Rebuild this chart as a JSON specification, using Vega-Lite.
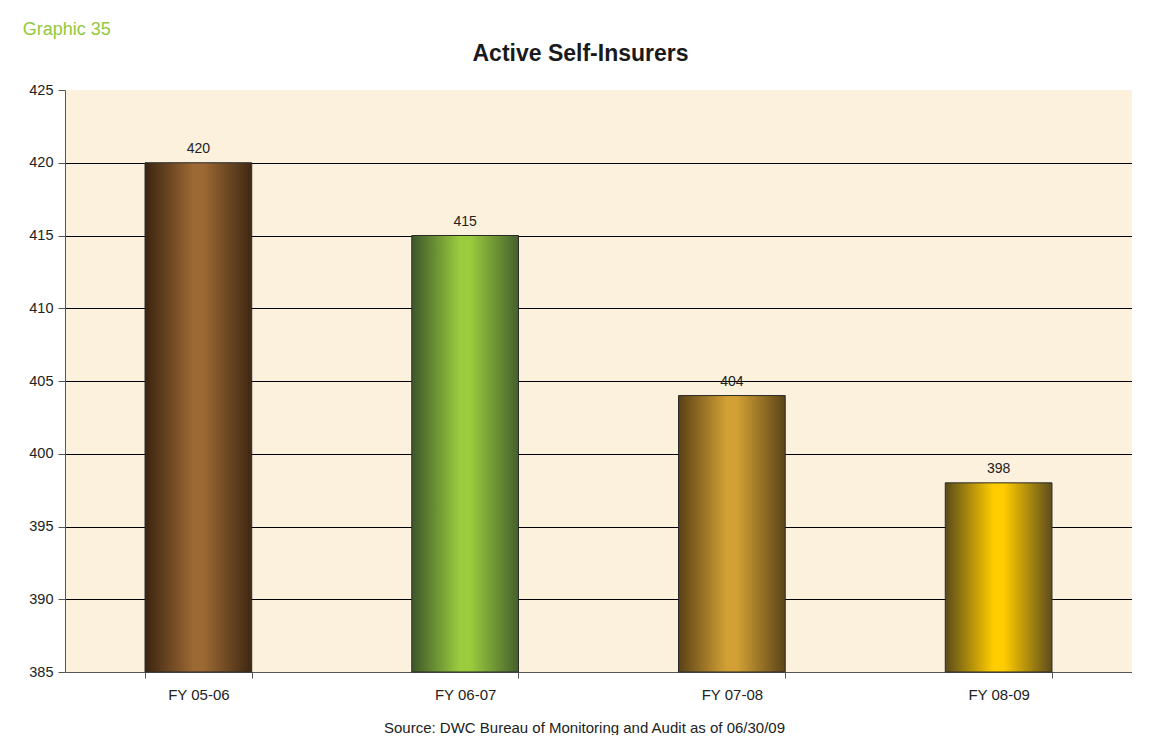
{
  "$schema": "https://vega.github.io/schema/vega-lite/v6.json",
  "background": "white",
  "padding": {"left": 22, "top": 21, "right": 0, "bottom": 0},
  "autosize": {"type": "pad"},
  "title": {"text": "Graphic 35", "anchor": "start", "frame": "bounds", "font": "Liberation Sans", "fontSize": 18, "fontWeight": "normal", "color": "#92c83e", "dx": -6, "offset": 4},
  "config": {"font": "Liberation Sans", "view": {"stroke": null}},
  "vconcat": [
    {
      "width": 1067,
      "height": 582,
      "title": {"text": "Active Self-Insurers", "font": "Liberation Sans", "fontSize": 23, "fontWeight": "bold", "color": "#1a1a1a", "anchor": "middle", "dx": -18, "offset": 16},
      "view": {"fill": "#fcf1dc", "stroke": null},
      "data": {"values": [
        {"year": "FY 05-06", "count": 420},
        {"year": "FY 06-07", "count": 415},
        {"year": "FY 07-08", "count": 404},
        {"year": "FY 08-09", "count": 398}
      ]},
      "encoding": {
        "x": {
          "field": "year", "type": "nominal", "sort": null,
          "scale": {"paddingInner": 0.6, "paddingOuter": 0.3},
          "axis": {
            "title": "Source: DWC Bureau of Monitoring and Audit  as of 06/30/09",
            "titleFont": "Liberation Sans", "titleFontSize": 15, "titleFontWeight": "normal", "titleColor": "#222222", "titlePadding": 18, "titleX": 519,
            "labelAngle": 0, "labelFont": "Liberation Sans", "labelFontSize": 15, "labelColor": "#222222", "labelPadding": 9,
            "tickBand": "extent", "tickSize": 6, "tickColor": "#555555", "domainColor": "#555555", "grid": false
          }
        },
        "y": {
          "field": "count", "type": "quantitative",
          "scale": {"domain": [385, 425], "zero": false, "nice": false},
          "axis": {
            "title": null, "values": [385, 390, 395, 400, 405, 410, 415, 420, 425],
            "labelFont": "Liberation Sans", "labelFontSize": 14.5, "labelColor": "#222222", "labelPadding": 5,
            "tickSize": 7, "tickColor": "#555555", "domainColor": "#555555",
            "grid": true, "gridColor": "#000000", "gridWidth": 1,
            "gridOpacity": {"condition": {"test": "datum.value === 425 || datum.value === 385", "value": 0}, "value": 1}
          }
        }
      },
      "layer": [
        {
          "mark": {"type": "bar", "stroke": "#2a2a2a", "strokeWidth": 1},
          "encoding": {
            "y2": {"datum": 385},
            "color": {
              "condition": [
                {"test": "datum.year === 'FY 05-06'", "value": {"gradient": "linear", "x1": 0, "y1": 0, "x2": 1, "y2": 0, "stops": [{"offset": 0, "color": "#3a2410"}, {"offset": 0.45, "color": "#9c6834"}, {"offset": 0.55, "color": "#9c6834"}, {"offset": 1, "color": "#3e2812"}]}},
                {"test": "datum.year === 'FY 06-07'", "value": {"gradient": "linear", "x1": 0, "y1": 0, "x2": 1, "y2": 0, "stops": [{"offset": 0, "color": "#3d5628"}, {"offset": 0.45, "color": "#9acc3e"}, {"offset": 0.55, "color": "#9acc3e"}, {"offset": 1, "color": "#45602c"}]}},
                {"test": "datum.year === 'FY 07-08'", "value": {"gradient": "linear", "x1": 0, "y1": 0, "x2": 1, "y2": 0, "stops": [{"offset": 0, "color": "#5a4016"}, {"offset": 0.45, "color": "#d2a034"}, {"offset": 0.55, "color": "#d2a034"}, {"offset": 1, "color": "#5c4418"}]}}
              ],
              "value": {"gradient": "linear", "x1": 0, "y1": 0, "x2": 1, "y2": 0, "stops": [{"offset": 0, "color": "#5a4a1a"}, {"offset": 0.45, "color": "#ffcc00"}, {"offset": 0.55, "color": "#ffcc00"}, {"offset": 1, "color": "#5e4c1c"}]}
            }
          }
        },
        {
          "mark": {"type": "text", "dy": -14, "font": "Liberation Sans", "fontSize": 14, "color": "#222222"},
          "encoding": {"text": {"field": "count", "type": "quantitative"}}
        }
      ]
    }
  ]
}
